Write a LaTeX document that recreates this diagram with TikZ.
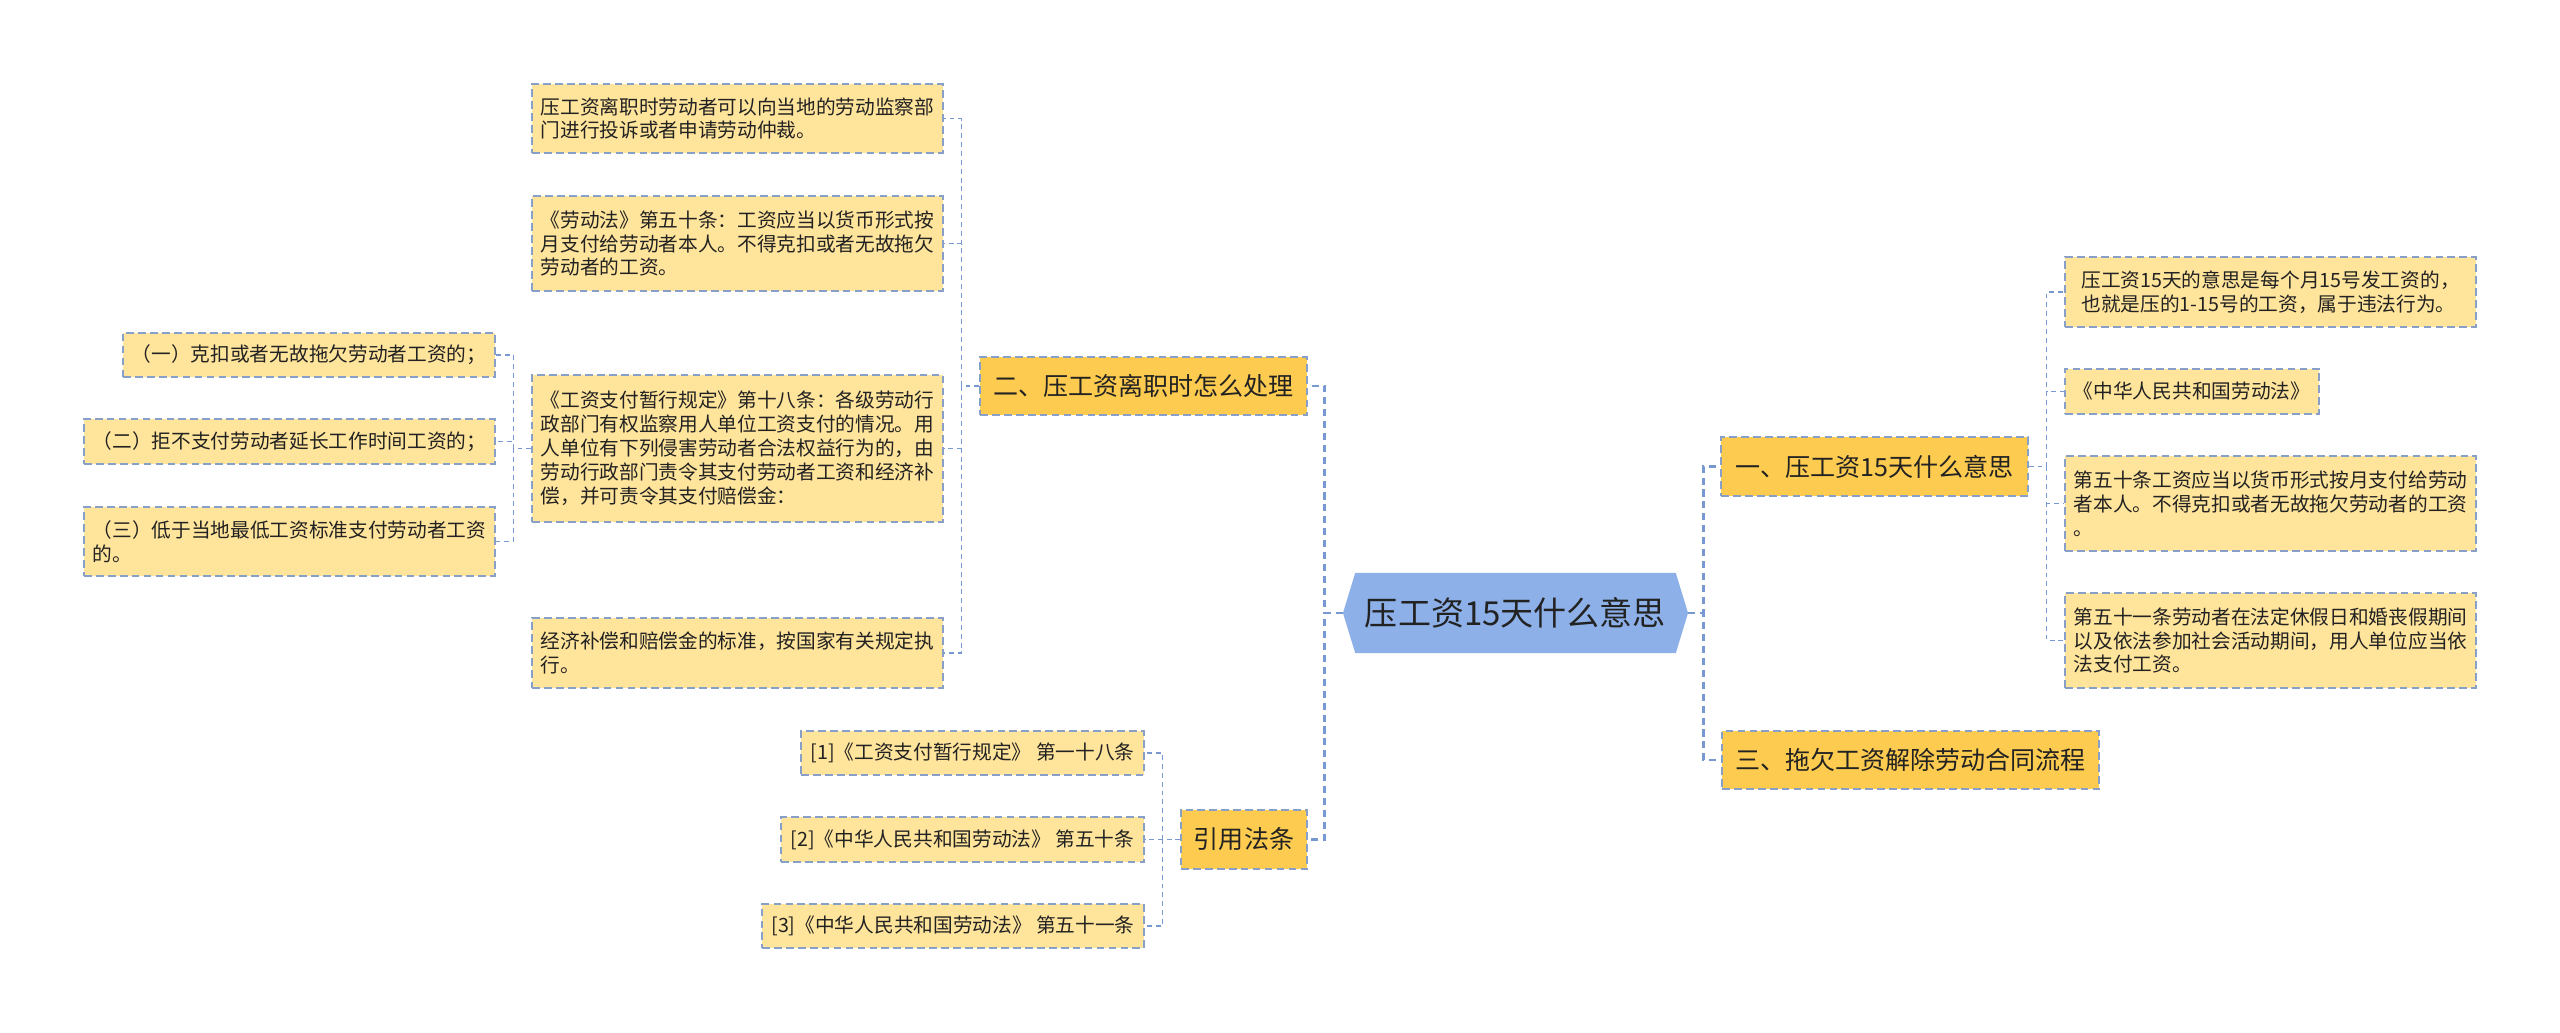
\documentclass[tikz,border=0pt]{standalone}
\usepackage{fontspec}
\setmainfont{Noto Sans CJK SC}
\usepackage{tikz}
\usetikzlibrary{shapes.symbols}

\definecolor{leaffill}{RGB}{255,228,156}
\definecolor{branchfill}{RGB}{252,203,80}
\definecolor{rootfill}{RGB}{141,176,232}
\definecolor{boxline}{RGB}{136,160,200}
\definecolor{linkline}{RGB}{120,152,210}
\definecolor{textcol}{RGB}{34,34,34}

\begin{document}
\begin{tikzpicture}[x=0.025cm,y=-0.025cm,
    text=textcol,
    leaf/.style={draw=boxline,
        fill=leaffill,
        line width=0.9pt,
        dash pattern=on 5.5pt off 3pt,
        align=left,
        inner sep=0pt,
        font=\fontsize{14pt}{17pt}\selectfont},
    branch/.style={draw=boxline,
        fill=branchfill,
        line width=0.9pt,
        dash pattern=on 5.5pt off 3pt,
        inner sep=0pt,
        font=\fontsize{17.8pt}{21pt}\selectfont},
    link/.style={draw=linkline,
        line width=1.05pt,
        dash pattern=on 3.5pt off 2.8pt},
    trunk/.style={draw=linkline,
        line width=1.8pt,
        dash pattern=on 5pt off 3.5pt}]

\useasboundingbox (0,0) rectangle (2560,1033);

% Central topic
\node[signal,
    signal to=west and east,
    signal pointer angle=146,
    fill=rootfill,
    minimum width=8.625cm,
    minimum height=2cm,
    inner sep=0pt,
    font=\fontsize{23.5pt}{28pt}\selectfont] (root) at (1515.5,613) {压工资15天什么意思};

% Main branches
\node[branch,
    minimum width=8.175cm,
    minimum height=1.45cm] (branch2) at (1143.5,386) {二、压工资离职时怎么处理};

\node[branch,
    minimum width=3.15cm,
    minimum height=1.475cm] (branch3) at (1244,839.5) {引用法条};

\node[branch,
    minimum width=7.675cm,
    minimum height=1.475cm] (branch1) at (1874.5,466.5) {一、压工资15天什么意思};

\node[branch,
    minimum width=9.425cm,
    minimum height=1.45cm] (branch4) at (1910.5,760) {三、拖欠工资解除劳动合同流程};

% Leaves of branch 2
\node[leaf,
    minimum width=10.275cm,
    minimum height=1.725cm] (leafA1) at (737.5,118.5) {压工资离职时劳动者可以向当地的劳动监察部\\门进行投诉或者申请劳动仲裁。};

\node[leaf,
    minimum width=10.275cm,
    minimum height=2.375cm] (leafA2) at (737.5,243.5) {《劳动法》第五十条：工资应当以货币形式按\\月支付给劳动者本人。不得克扣或者无故拖欠\\劳动者的工资。};

\node[leaf,
    minimum width=10.275cm,
    minimum height=3.675cm] (leafA3) at (737.5,448.5) {《工资支付暂行规定》第十八条：各级劳动行\\政部门有权监察用人单位工资支付的情况。用\\人单位有下列侵害劳动者合法权益行为的，由\\劳动行政部门责令其支付劳动者工资和经济补\\偿，并可责令其支付赔偿金：};

\node[leaf,
    minimum width=10.275cm,
    minimum height=1.75cm] (leafA4) at (737.5,653) {经济补偿和赔偿金的标准，按国家有关规定执\\行。};

% Items of the article
\node[leaf,
    minimum width=9.3cm,
    minimum height=1.1cm] (leafC1) at (309,355) {（一）克扣或者无故拖欠劳动者工资的；};

\node[leaf,
    minimum width=10.275cm,
    minimum height=1.125cm] (leafC2) at (289.5,441.5) {（二）拒不支付劳动者延长工作时间工资的；};

\node[leaf,
    minimum width=10.275cm,
    minimum height=1.725cm] (leafC3) at (289.5,541.5) {（三）低于当地最低工资标准支付劳动者工资\\的。};

% Cited articles
\node[leaf,
    minimum width=8.575cm,
    minimum height=1.1cm] (leafD1) at (972.5,753) {[1]《工资支付暂行规定》 第一十八条};

\node[leaf,
    minimum width=9.075cm,
    minimum height=1.125cm] (leafD2) at (962.5,839.5) {[2]《中华人民共和国劳动法》 第五十条};

\node[leaf,
    minimum width=9.55cm,
    minimum height=1.1cm] (leafD3) at (953,926) {[3]《中华人民共和国劳动法》 第五十一条};

% Leaves of branch 1
\node[leaf,
    minimum width=10.275cm,
    minimum height=1.75cm] (leafE1) at (2270.5,292) {压工资15天的意思是每个月15号发工资的，\\也就是压的1-15号的工资，属于违法行为。};

\node[leaf,
    minimum width=6.35cm,
    minimum height=1.125cm] (leafE2) at (2192,391.5) {《中华人民共和国劳动法》};

\node[leaf,
    minimum width=10.275cm,
    minimum height=2.375cm] (leafE3) at (2270.5,503.5) {第五十条工资应当以货币形式按月支付给劳动\\者本人。不得克扣或者无故拖欠劳动者的工资\\。};

\node[leaf,
    minimum width=10.275cm,
    minimum height=2.375cm] (leafE4) at (2270.5,640.5) {第五十一条劳动者在法定休假日和婚丧假期间\\以及依法参加社会活动期间，用人单位应当依\\法支付工资。};

% Connectors
\draw[trunk] (root.west) -- ++(-18,0) |- (branch2.east);
\draw[trunk] (root.west) -- ++(-18,0) |- (branch3.east);
\draw[trunk] (root.east) -- ++(15,0) |- (branch1.west);
\draw[trunk] (root.east) -- ++(15,0) |- (branch4.west);

\foreach \leaf in {leafA1,leafA2,leafA3,leafA4}
    \draw[link] (branch2.west) -- ++(-18,0) |- (\leaf.east);
\foreach \leaf in {leafC1,leafC2,leafC3}
    \draw[link] (leafA3.west) -- ++(-18,0) |- (\leaf.east);
\foreach \leaf in {leafD1,leafD2,leafD3}
    \draw[link] (branch3.west) -- ++(-18,0) |- (\leaf.east);
\foreach \leaf in {leafE1,leafE2,leafE3,leafE4}
    \draw[link] (branch1.east) -- ++(18,0) |- (\leaf.west);

\end{tikzpicture}
\end{document}
